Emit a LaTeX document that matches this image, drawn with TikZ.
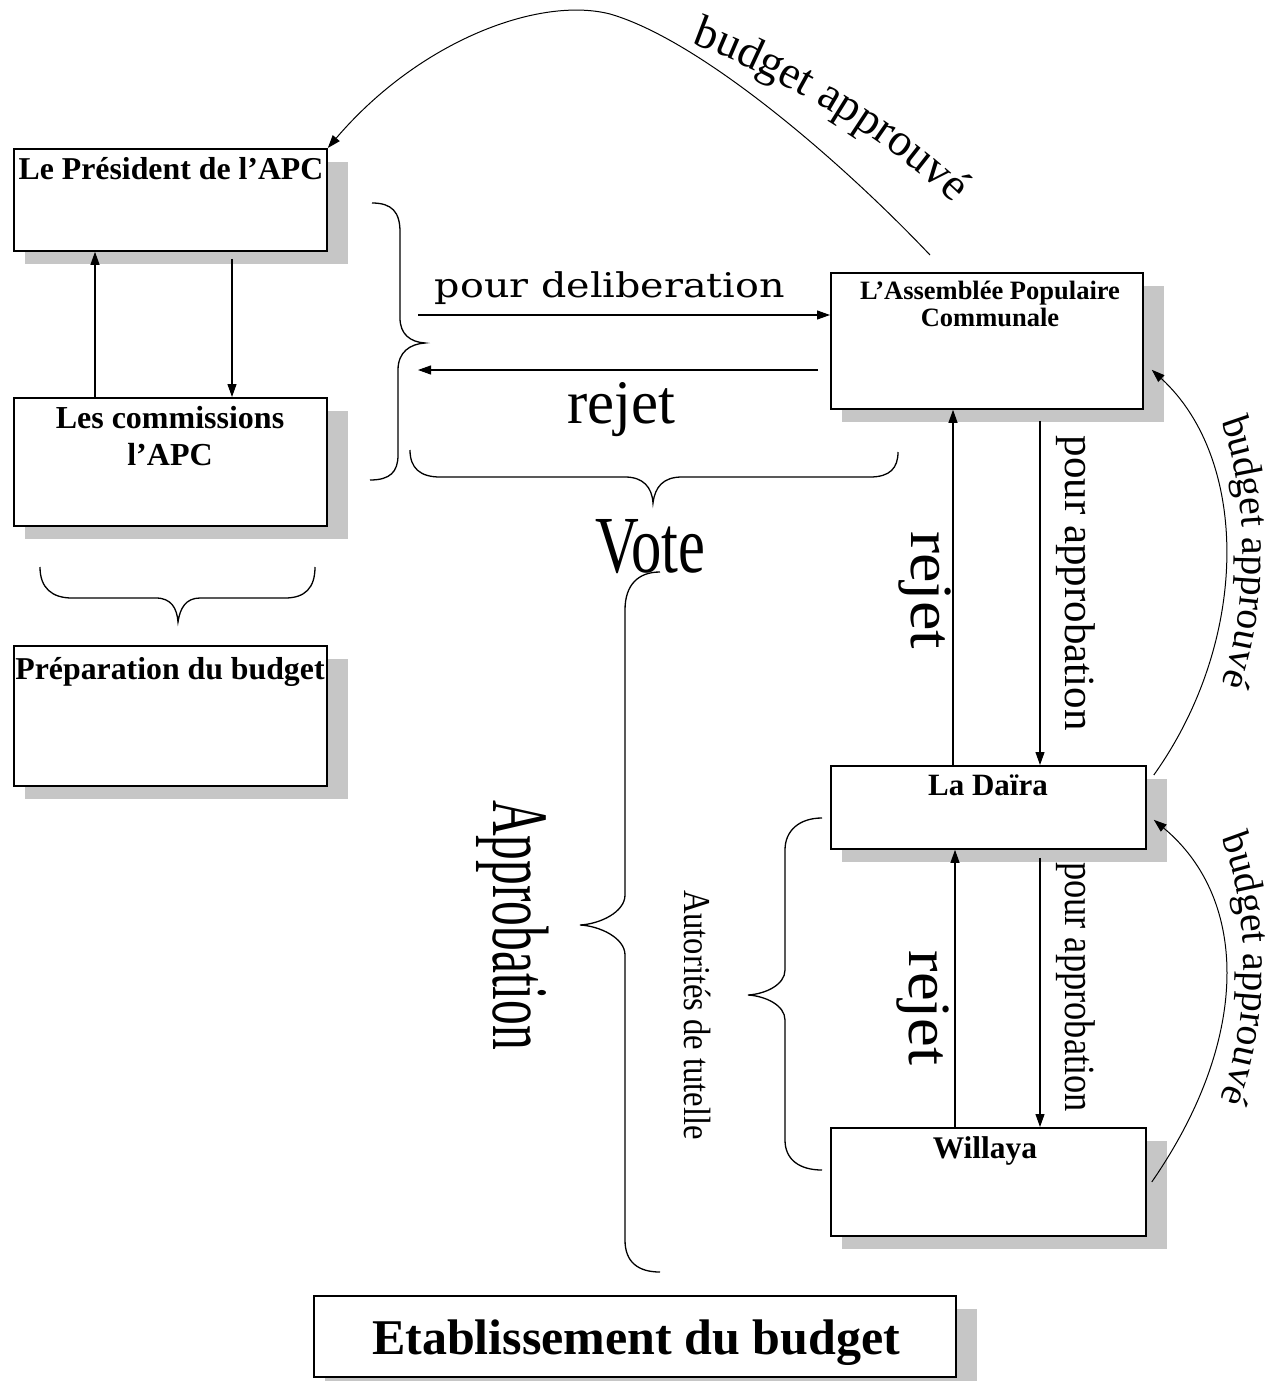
\documentclass[tikz,border=0pt]{standalone}
\usepackage{fontspec}
\setmainfont{Liberation Serif}
\newfontfamily\dejav{DejaVu Serif}
\usetikzlibrary{arrows.meta,decorations.text,calc,backgrounds}
\newcommand\fsz[1]{\fontsize{#1}{#1}\selectfont}
\newcommand\fitw[3]{\resizebox{#1}{\height}{\fsz{#2}#3}}
\newcommand\bigA{\fontsize{46}{46}\selectfont}
\newcommand\bigB{\fontsize{40}{40}\selectfont}
\begin{document}
\begin{tikzpicture}[x=1pt,y=-1pt,
  box/.style={draw, line width=1.8pt, fill=white, anchor=north west, inner sep=0pt},
  shad/.style={fill=gray!45},
  btxt/.style={font=\bfseries, anchor=base, inner sep=0pt},
  arr/.style={line width=1.1pt, -{Triangle[length=13pt,width=9pt]}},
  curv/.style={line width=1pt, -{Triangle[length=13pt,width=9pt]}},
  bracestyle/.style={line width=1.3pt},
  lbl/.style={inner sep=0pt}]
\useasboundingbox (0,0) rectangle (1282,1381);

% boxes
\node[box, minimum width=313pt, minimum height=102pt] (pres) at (13,148) {};
\node[box, minimum width=313pt, minimum height=128pt] (com) at (13,397) {};
\node[box, minimum width=313pt, minimum height=140pt] (prep) at (13,645) {};
\node[box, minimum width=312pt, minimum height=136pt] (apc) at (830,272) {};
\node[box, minimum width=315pt, minimum height=83pt] (daira) at (830,765) {};
\node[box, minimum width=315pt, minimum height=108pt] (willaya) at (830,1127) {};
\node[box, minimum width=642pt, minimum height=81pt] (etab) at (313,1295) {};

\begin{scope}[on background layer]
  \fill[white] (0,0) rectangle (1282,1381);
  \foreach \b in {pres,com,prep,apc,daira,willaya,etab}
    \fill[shad] ($(\b.south west)+(12,12)$) rectangle ($(\b.north east)+(20,14)$);
\end{scope}

% box texts
\node[btxt] (prest) at (171,179) {\fsz{31.8}Le Président de l’APC};
\node[btxt] (comt1) at (170,428) {\fsz{32}Les commissions};
\node[btxt] (comt2) at (170,465) {\fsz{32}l’APC};
\node[btxt] (prept) at (170,679) {\fsz{31.8}Préparation du budget};
\node[btxt] (apct1) at (990,299) {\fsz{26.5}L’Assemblée Populaire};
\node[btxt] (apct2) at (990,326) {\fsz{26.5}Communale};
\node[btxt] (dairat) at (988,795) {\fsz{31}La Daïra};
\node[btxt] (willt) at (985,1158) {\fsz{31.5}Willaya};
\node[btxt] (etabt) at (636,1354) {\fsz{50}Etablissement du budget};

% labels
\node[lbl, anchor=base] (tdelib) at (610,297) {\fitw{350pt}{34}{\dejav pour deliberation}};
\node[lbl, anchor=base] (trej) at (621,423) {\fitw{108pt}{62}{rejet}};
\node[lbl, anchor=base] (tvote) at (650,572) {\fitw{110pt}{81}{Vote}};
\node[lbl, rotate=-90] (tappr) at (513,925) {\fitw{250pt}{80}{Approbation}};
\node[lbl, rotate=-90] (taut) at (698,1015) {\fitw{250pt}{38}{Autorités de tutelle}};
\node[lbl, rotate=-90] (tpa1) at (1076,583) {\fitw{295pt}{43}{pour approbation}};
\node[lbl, rotate=-90] (tpa2) at (1076,987) {\fitw{250pt}{43}{pour approbation}};
\node[lbl, rotate=-90] (trj1) at (925,590) {\fitw{118pt}{60}{rejet}};
\node[lbl, rotate=-90] (trj2) at (923,1008) {\fitw{115pt}{60}{rejet}};

% helper coordinates
\coordinate (xa) at (95,0);
\coordinate (xb) at (232,0);
\coordinate (xc) at (1040,0);
\coordinate (xd) at (953,0);
\coordinate (xe) at (955,0);
\coordinate (dA) at (418,315);
\coordinate (rA) at (818,370);
\coordinate (rB) at (418,370);

% straight arrows
\draw[arr] (com.north -| xa) -- (pres.south -| xa);
\draw[arr] ($(pres.south -| xb)+(0,7)$) -- (com.north -| xb);
\draw[arr] (dA) -- (dA -| apc.west);
\draw[arr] (rA) -- (rB);
\draw[arr] ($(apc.south -| xc)+(0,11)$) -- (daira.north -| xc);
\draw[arr] (daira.north -| xd) -- (apc.south -| xd);
\draw[arr] ($(daira.south -| xc)+(0,8)$) -- (willaya.north -| xc);
\draw[arr] (willaya.north -| xe) -- (daira.south -| xe);

% curved arrows
\draw[curv] ($(apc.north west)+(100,-17)$) .. controls (840,160) and (700,40) .. (610,14)
   .. controls (540,-4) and (420,40) .. (pres.north east);
\draw[curv] ($(daira.north east)+(7,10)$) .. controls (1250,640) and (1250,460) .. ($(apc.south east)+(8,-40)$);
\draw[curv] ($(willaya.east)+(5,0)$) .. controls (1250,1040) and (1250,900) .. ($(daira.south east)+(7,-30)$);

% curved labels
\path[decorate, decoration={text along path, text align=center, text={|\bigA|budget approuvé}}]
  (680,40) .. controls (740,58) and (880,128) .. (962,212);
\path[decorate, decoration={text along path, text align=center, text={|\bigB|budget approuvé}}]
  (1214,405) .. controls (1252,480) and (1252,625) .. (1214,700);
\path[decorate, decoration={text along path, text align=center, text={|\bigB|budget approuvé}}]
  (1214,822) .. controls (1254,900) and (1254,1040) .. (1212,1115);

% braces
\draw[bracestyle] (372,203) .. controls (392,203) and (400,212) .. (400,232) -- (400,318)
  .. controls (400,334) and (410,342) .. (425,343) .. controls (410,344) and (398,352) .. (398,370)
  -- (398,455) .. controls (398,472) and (390,480) .. (370,480);
\draw[bracestyle] (410,450) .. controls (410,468) and (420,477) .. (440,477) -- (625,477)
  .. controls (643,477) and (652,487) .. (653,503) .. controls (655,487) and (663,477) .. (682,477)
  -- (870,477) .. controls (890,477) and (898,468) .. (898,452);
\draw[bracestyle] (40,567) .. controls (40,588) and (52,598) .. (72,598) -- (156,598)
  .. controls (171,598) and (177,608) .. (178,622) .. controls (180,608) and (186,598) .. (200,598)
  -- (285,598) .. controls (305,598) and (315,588) .. (315,567);
\draw[bracestyle] (660,572) .. controls (638,572) and (625,585) .. (625,610) -- (625,895)
  .. controls (625,912) and (600,924) .. (580,925) .. controls (600,926) and (625,938) .. (625,955)
  -- (625,1240) .. controls (625,1262) and (638,1272) .. (660,1272);
\draw[bracestyle] (822,818) .. controls (800,818) and (785,830) .. (785,850) -- (785,970)
  .. controls (785,985) and (765,994) .. (748,995) .. controls (765,996) and (785,1005) .. (785,1020)
  -- (785,1140) .. controls (785,1160) and (800,1170) .. (822,1170);
\end{tikzpicture}
\end{document}
